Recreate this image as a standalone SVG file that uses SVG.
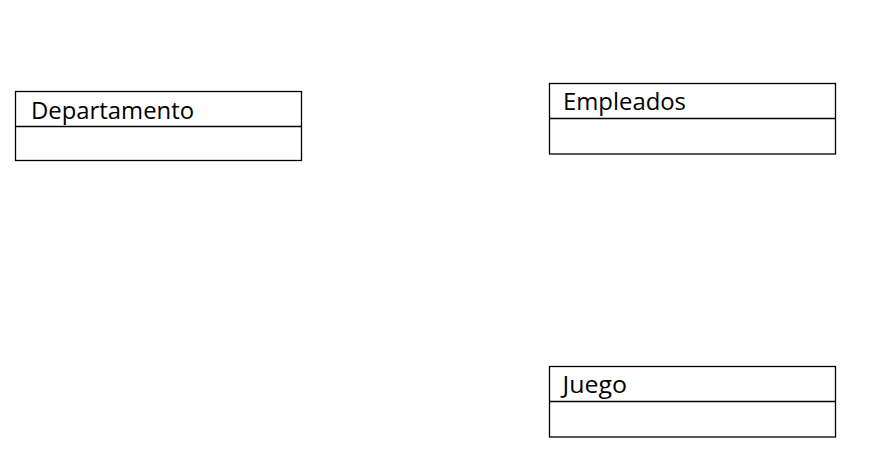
<svg xmlns="http://www.w3.org/2000/svg" width="890" height="470" viewBox="0 0 890 470">
<style>
.box{fill:#fff;stroke:#000;stroke-width:1.3}
.div{stroke:#000;stroke-width:1.3}
.lbl{font-family:"Open Sans","Liberation Sans",sans-serif;font-size:23px;fill:#000}
</style>
<rect width="890" height="470" fill="#fff"/>
<g id="connectors"></g>
<g id="departamento">
<rect class="box" x="15.5" y="91.5" width="286" height="69"/>
<line class="div" x1="15.5" y1="126.5" x2="301.5" y2="126.5"/>
<text class="lbl" x="31" y="119" textLength="163" lengthAdjust="spacingAndGlyphs">Departamento</text>
</g>
<g id="empleados">
<rect class="box" x="549.5" y="83.5" width="286" height="70.5"/>
<line class="div" x1="549.5" y1="118.5" x2="835.5" y2="118.5"/>
<text class="lbl" x="563" y="110" textLength="123" lengthAdjust="spacingAndGlyphs">Empleados</text>
</g>
<g id="juego">
<rect class="box" x="549.5" y="366.5" width="286" height="70.5"/>
<line class="div" x1="549.5" y1="401.5" x2="835.5" y2="401.5"/>
<text class="lbl" x="562.5" y="393" textLength="64.5" lengthAdjust="spacingAndGlyphs">Juego</text>
</g>
</svg>
